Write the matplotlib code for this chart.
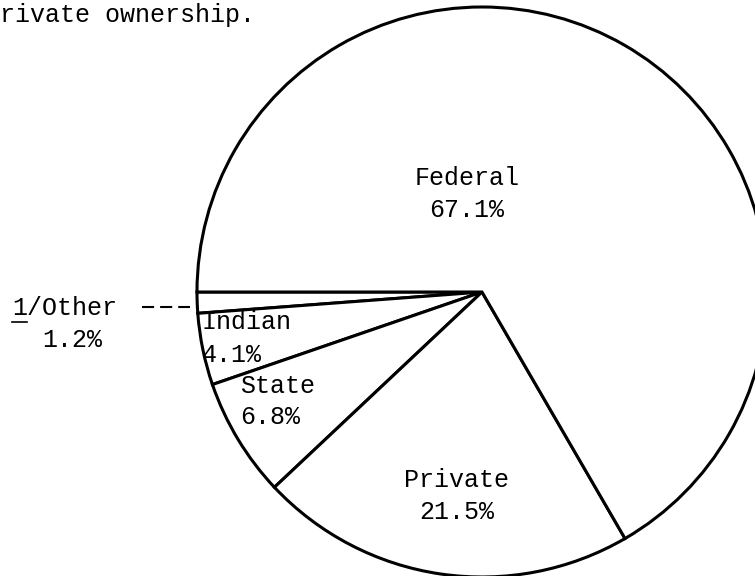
import matplotlib
matplotlib.use('Agg')
import matplotlib.pyplot as plt

# Land ownership shares (percent), counter-clockwise from the left horizontal
owners = ['Other', 'Indian', 'State', 'Private', 'Federal']
shares = [1.2, 4.1, 6.8, 21.5, 67.1]

W, H = 755, 576
fig = plt.figure(figsize=(W / 100, H / 100), dpi=100)
ax = fig.add_axes([0, 0, 1, 1])

ax.pie(shares, center=(482, H - 292), radius=285, startangle=180,
       counterclock=True,
       wedgeprops=dict(facecolor='white', edgecolor='black', linewidth=2.2))
ax.set_xlim(0, W)
ax.set_ylim(0, H)
ax.set_aspect('equal')
ax.axis('off')

font = dict(family='Liberation Mono', fontsize=18, color='black')

# header text cut off at the top of the page
ax.text(0, H - 15, 'rivate ownership.', ha='left', va='center', **font)

# slice labels (placed by hand like the original)
ax.text(467, H - 178, 'Federal', ha='center', va='center', **font)
ax.text(467, H - 210, f'{shares[4]}%', ha='center', va='center', **font)

ax.text(457, H - 480, 'Private', ha='center', va='center', **font)
ax.text(457, H - 512, f'{shares[3]}%', ha='center', va='center', **font)

ax.text(240, H - 386, 'State', ha='left', va='center', **font)
ax.text(240, H - 417, f'{shares[2]}%', ha='left', va='center', **font)

ax.text(202, H - 322, 'Indian', ha='left', va='center', **font)
ax.text(202, H - 355, f'{shares[1]}%', ha='left', va='center', **font)

# small "Other" slice labelled outside with a dashed leader
ax.text(12, H - 308, '1/Other', ha='left', va='center', **font)
ax.plot([12, 27], [H - 322, H - 322], color='black', linewidth=1.2)
ax.plot([142, 190], [H - 307, H - 307], color='black', linewidth=1.5,
        linestyle=(0, (5.8, 2.9)))
ax.text(72, H - 340, f'{shares[0]}%', ha='center', va='center', **font)

plt.savefig('out.png', dpi=100, facecolor='white')
plt.close()
